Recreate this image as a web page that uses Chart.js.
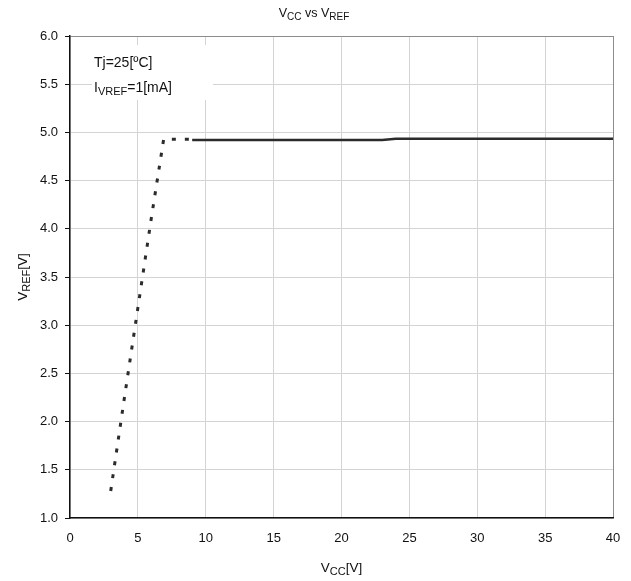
<!DOCTYPE html>
<html>
<head>
<meta charset="utf-8">
<script src="https://cdn.jsdelivr.net/npm/chart.js@4"></script>
<style>
  body { margin: 0; background: #fff; }
  #wrap { width: 631px; height: 581px; }
</style>
</head>
<body>
<div id="wrap"><canvas id="vrefChart" width="631" height="581"></canvas></div>
<script>
// Rising part (dotted) and regulated part (solid) of VREF vs VCC
const startupVcc = [3, 4, 5, 6, 6.9, 8, 9];
const startupVref = [1.28, 2.24, 3.18, 4.12, 4.93, 4.93, 4.93];
const regVcc = [9, 23, 24, 40];
const regVref = [4.92, 4.92, 4.935, 4.935];

const xTicks = [0, 5, 10, 15, 20, 25, 30, 35, 40];
const yTicks = [1.0, 1.5, 2.0, 2.5, 3.0, 3.5, 4.0, 4.5, 5.0, 5.5, 6.0];

const FONT = '"Liberation Sans", Arial, sans-serif';

const toPoints = (xs, ys) => xs.map((x, i) => ({ x: x, y: ys[i] }));

// draw text made of [string, isSubscript] parts
function drawParts(ctx, parts, x, y, size, align) {
    const subSize = Math.round(size * 0.8);
    let total = 0;
    parts.forEach(p => {
        ctx.font = (p[1] ? subSize : size) + 'px ' + FONT;
        total += ctx.measureText(p[0]).width;
    });
    let cx = align === 'center' ? x - total / 2 : x;
    ctx.textBaseline = 'alphabetic';
    ctx.textAlign = 'left';
    parts.forEach(p => {
        ctx.font = (p[1] ? subSize : size) + 'px ' + FONT;
        ctx.fillText(p[0], cx, p[1] ? y + size * 0.2 : y);
        cx += ctx.measureText(p[0]).width;
    });
}

const labelsPlugin = {
    id: 'labels',
    beforeDatasetsDraw(chart) {
        // white box behind the conditions note
        const ctx = chart.ctx;
        const area = chart.chartArea;
        ctx.save();
        ctx.fillStyle = '#fff';
        ctx.fillRect(area.left + 22, area.top + 9, 121, 55);
        ctx.restore();
    },
    afterDraw(chart) {
        const ctx = chart.ctx;
        const area = chart.chartArea;
        ctx.save();
        ctx.fillStyle = '#111';

        // title
        drawParts(ctx, [['V', false], ['CC', true], [' vs ', false], ['V', false], ['REF', true]],
            314, 17, 12.5, 'center');

        // conditions note
        drawParts(ctx, [['Tj=25[ºC]', false]], area.left + 24, area.top + 31, 14, 'left');
        drawParts(ctx, [['I', false], ['VREF', true], ['=1[mA]', false]], area.left + 24, area.top + 56, 14, 'left');

        // x axis title
        drawParts(ctx, [['V', false], ['CC', true], ['[V]', false]],
            (area.left + area.right) / 2, 572, 13.5, 'center');

        // y axis title
        ctx.translate(27, (area.top + area.bottom) / 2);
        ctx.rotate(-Math.PI / 2);
        drawParts(ctx, [['V', false], ['REF', true], ['[V]', false]], 0, 0, 13.5, 'center');
        ctx.restore();
    }
};

const ctx = document.getElementById('vrefChart').getContext('2d');
const myChart = new Chart(ctx, {
    type: 'line',
    data: {
        datasets: [{
            label: 'startup',
            data: toPoints(startupVcc, startupVref),
            borderColor: '#2b2b2b',
            borderWidth: 3,
            borderDash: [4, 9],
            pointRadius: 0,
            tension: 0,
            fill: false
        }, {
            label: 'regulated',
            data: toPoints(regVcc, regVref),
            borderColor: '#2b2b2b',
            borderWidth: 2.5,
            pointRadius: 0,
            tension: 0,
            fill: false
        }]
    },
    options: {
        responsive: false,
        animation: false,
        layout: { padding: { left: 0, right: 18, top: 36, bottom: 0 } },
        plugins: {
            legend: { display: false },
            title: { display: false },
            tooltip: { enabled: false }
        },
        scales: {
            x: {
                type: 'linear',
                min: 0,
                max: 40,
                afterBuildTicks: scale => { scale.ticks = xTicks.map(v => ({ value: v })); },
                afterFit: scale => {
                    scale.height = 63;
                    scale.paddingLeft = 0;
                    scale.paddingRight = 0;
                },
                ticks: {
                    color: '#111',
                    font: { family: FONT, size: 13 },
                    padding: 13,
                    maxRotation: 0
                },
                grid: {
                    drawTicks: false,
                    color: c => c.tick && c.tick.value === 40 ? '#8c8c8c' : '#d4d4d4'
                },
                border: { color: '#111', width: 1.5 }
            },
            y: {
                type: 'linear',
                min: 1,
                max: 6,
                afterBuildTicks: scale => { scale.ticks = yTicks.map(v => ({ value: v })); },
                afterFit: scale => { scale.width = 70; },
                ticks: {
                    color: '#111',
                    font: { family: FONT, size: 13 },
                    padding: 7,
                    callback: v => Number(v).toFixed(1)
                },
                grid: {
                    tickLength: 5,
                    tickColor: '#111',
                    color: c => c.tick && c.tick.value === 6 ? '#8c8c8c' : '#d4d4d4'
                },
                border: { color: '#111', width: 1.5 }
            }
        }
    },
    plugins: [labelsPlugin]
});
</script>
</body>
</html>
